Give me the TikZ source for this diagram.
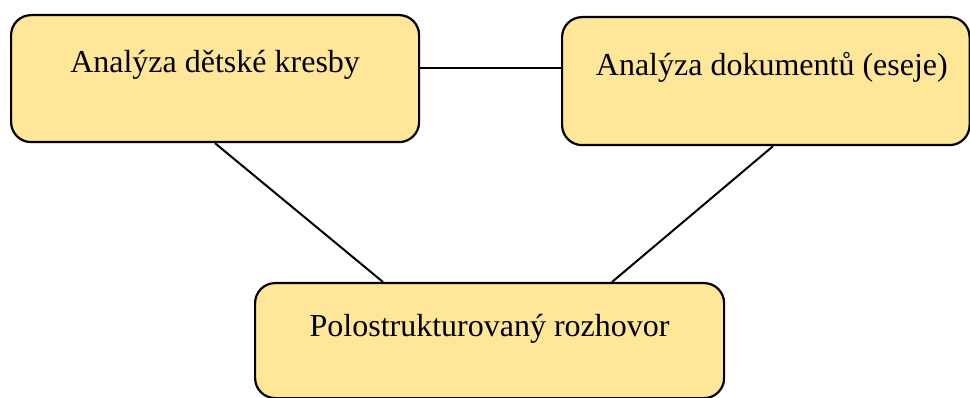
\documentclass[tikz,border=0pt]{standalone}
\usepackage{fontspec}
\setmainfont{Liberation Serif}
\definecolor{boxfill}{HTML}{FFE699}
\begin{document}
\begin{tikzpicture}[x=1pt,y=-1pt,
  box/.style={draw=black, line width=2.2pt, fill=boxfill, rounded corners=20pt,
    inner sep=0pt, anchor=north west, font=\rmfamily\fontsize{32}{38}\selectfont},
  link/.style={draw=black, line width=2pt}]
\useasboundingbox (0,0) rectangle (970,398);
\node[box, minimum width=408pt, text height=57pt, text depth=70pt] (b1) at (10,14) {Analýza dětské kresby};
\node[box, minimum width=407.5pt, text height=58pt, text depth=70pt] (b2) at (561,16) {\hspace*{12pt}Analýza dokumentů (eseje)};
\node[box, minimum width=469pt, text height=53pt, text depth=62pt] (b3) at (254,282) {Polostrukturovaný rozhovor};
\draw[link] ([yshift=10.5pt]b1.east) -- ([yshift=10.5pt]b1.east -| b2.west);
\draw[link] ([xshift=205pt]b1.south west) -- ([xshift=129pt]b3.north west);
\draw[link] ([xshift=212pt]b2.south west) -- ([xshift=358pt]b3.north west);
\end{tikzpicture}
\end{document}
